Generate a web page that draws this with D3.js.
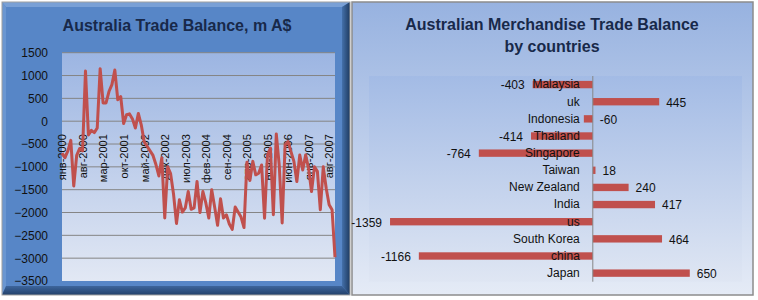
<!DOCTYPE html>
<html>
<head>
<meta charset="utf-8">
<script src="https://cdn.jsdelivr.net/npm/d3@7"></script>
<style>
  body { margin: 0; background: #fff; }
  svg { display: block; font-family: "Liberation Sans", Arial, sans-serif; }
</style>
</head>
<body>
<div id="chart"></div>
<script>
// monthly trade balance, m A$, Jan 2000 .. Oct 2007
const balance = [
  -700, -800, -650, -420, -1420, -750, -600, -650, 1100, -300,
  -200, -250, -150, 1150, 400, 400, 650, 800, 1120, 470,
  540, -50, 140, 160, 50, -150, 170, -80, -450, -550,
  -650, -750, -950, -1200, -800, -2120, -1000, -1150, -1600, -2240,
  -1720, -1990, -1900, -1540, -1930, -1900, -1320, -2000, -1540, -1790,
  -2120, -1500, -1880, -2280, -1700, -2120, -2050, -2250, -2370, -1880,
  -1990, -2100, -2330, -900, -1300, -880, -1175, -1140, -960, -2125,
  -740, -590, -2050, -280, -960, -2230, -520, -445, -665, -880,
  -1320, -740, -1070, -740, -1030, -1540, -1000, -1100, -1940, -1000,
  -1470, -1830, -1940, -2980
];
// category labels shown every 7th month
const monthTicks = [
  "янв-2000", "авг-2000", "мар-2001", "окт-2001", "май-2002", "дек-2002", "июл-2003",
  "фев-2004", "сен-2004", "апр-2005", "ноя-2005", "июн-2006", "янв-2007", "авг-2007"
];
const yTicks = [1500, 1000, 500, 0, -500, -1000, -1500, -2000, -2500, -3000, -3500];

const countries = ["Malaysia", "uk", "Indonesia", "Thailand", "Singapore", "Taiwan",
  "New Zealand", "India", "us", "South Korea", "china", "Japan"];
const countryBalance = [-403, 445, -60, -414, -764, 18, 240, 417, -1359, 464, -1166, 650];

const svg = d3.select("#chart").append("svg")
  .attr("width", 758)
  .attr("height", 300);

const defs = svg.append("defs");
function vGrad(id, c0, c1) {
  const g = defs.append("linearGradient").attr("id", id)
    .attr("x1", 0).attr("y1", 0).attr("x2", 0).attr("y2", 1);
  g.append("stop").attr("offset", "0%").attr("stop-color", c0);
  g.append("stop").attr("offset", "100%").attr("stop-color", c1);
}
vGrad("plotBg", "#9cb5e2", "#e2e8f4");
vGrad("panelBg", "#97b2e0", "#e5ebf6");
vGrad("barPlotBg", "#a3bbe5", "#dfe6f3");
vGrad("bevelBottom", "#3d659c", "#22406a");
const rg = defs.append("linearGradient").attr("id", "bevelRight")
  .attr("x1", 0).attr("y1", 0).attr("x2", 1).attr("y2", 0);
rg.append("stop").attr("offset", "0%").attr("stop-color", "#4470aa");
rg.append("stop").attr("offset", "100%").attr("stop-color", "#1e3a60");

// ---------- left panel: line chart ----------
const L = 2, T = 2, R = 350, B = 295;
const left = svg.append("g");
left.append("rect")
  .attr("x", L).attr("y", T).attr("width", R - L).attr("height", B - T)
  .attr("fill", "#5786c7");
// bevel edges
left.append("polygon")
  .attr("points", `${L},${T} ${R},${T} ${R - 8},${T + 5} ${L + 4},${T + 5}`)
  .attr("fill", "#79a0d6");
left.append("polygon")
  .attr("points", `${L},${T} ${L + 4},${T + 5} ${L + 4},${B - 9} ${L},${B}`)
  .attr("fill", "#6a96d1");
left.append("polygon")
  .attr("points", `${R},${T} ${R},${B} ${R - 8},${B - 9} ${R - 8},${T + 5}`)
  .attr("fill", "url(#bevelRight)");
left.append("polygon")
  .attr("points", `${L},${B} ${R},${B} ${R - 8},${B - 9} ${L + 4},${B - 9}`)
  .attr("fill", "url(#bevelBottom)");
left.append("rect")
  .attr("x", L).attr("y", T).attr("width", R - L).attr("height", B - T)
  .attr("fill", "none").attr("stroke", "#a0a0a0");

left.append("text")
  .attr("x", 177).attr("y", 31)
  .attr("text-anchor", "middle")
  .style("font-size", "16px").style("font-weight", "bold")
  .attr("fill", "#18294a")
  .text("Australia Trade Balance, m A$");

const x = d3.scaleLinear().domain([0, balance.length - 1]).range([62, 335]);
const y = d3.scaleLinear().domain([-3500, 1500]).range([281, 52.7]);

left.append("rect")
  .attr("x", 62).attr("y", y(1500))
  .attr("width", 335 - 62).attr("height", y(-3500) - y(1500))
  .attr("fill", "url(#plotBg)");

// gridlines
left.append("g")
  .selectAll("line")
  .data(yTicks.slice(0, -1))
  .join("line")
  .attr("x1", 62).attr("x2", 335)
  .attr("y1", d => y(d)).attr("y2", d => y(d))
  .attr("stroke", "#858585").attr("stroke-width", 1);

// Y axis labels
const yAxis = left.append("g")
  .attr("transform", "translate(62,0)")
  .call(d3.axisLeft(y).tickValues(yTicks).tickFormat(d3.format("d")).tickSize(0).tickPadding(14));
yAxis.select(".domain").remove();
yAxis.selectAll("text").style("font-size", "12px").attr("fill", "#111");

// category labels, written upward just below the zero line
const xAxis = left.append("g")
  .attr("transform", `translate(0,${y(0) + 13})`)
  .call(d3.axisBottom(x)
    .tickValues(monthTicks.map((d, i) => i * 7))
    .tickFormat((d, i) => monthTicks[i])
    .tickSize(0));
xAxis.select(".domain").remove();
xAxis.selectAll("text")
  .attr("transform", "rotate(-90)")
  .attr("x", 0).attr("y", 0).attr("dy", "0.35em")
  .style("text-anchor", "end")
  .style("font-size", "11px")
  .attr("fill", "#111");

left.append("path")
  .datum(balance)
  .attr("d", d3.line().x((d, i) => x(i)).y(d => y(d)))
  .attr("fill", "none")
  .attr("stroke", "#c0504d")
  .attr("stroke-width", 3)
  .attr("stroke-linejoin", "round");

// ---------- right panel: bar chart ----------
const right = svg.append("g");
right.append("rect")
  .attr("x", 352).attr("y", 2).attr("width", 401).attr("height", 293)
  .attr("fill", "url(#panelBg)")
  .attr("stroke", "#8c8c8c").attr("stroke-width", 1.5);

right.append("text")
  .attr("x", 552).attr("y", 30)
  .attr("text-anchor", "middle")
  .style("font-size", "16px").style("font-weight", "bold")
  .attr("fill", "#18294a")
  .selectAll("tspan")
  .data(["Australian Merchandise Trade Balance", "by countries"])
  .join("tspan")
  .attr("x", 552)
  .attr("dy", (d, i) => i ? 22 : 0)
  .text(d => d);

const bx = d3.scaleLinear().domain([-1500, 1000]).range([369, 742]);
const by = d3.scaleBand().domain(countries).range([76, 281.7])
  .paddingInner(0.57).paddingOuter(0.285);

right.append("rect")
  .attr("x", 369).attr("y", 76)
  .attr("width", 742 - 369).attr("height", 281.7 - 76)
  .attr("fill", "url(#barPlotBg)");

const rows = countries.map((c, i) => ({ c, v: countryBalance[i] }));

right.append("g")
  .selectAll("rect")
  .data(rows)
  .join("rect")
  .attr("x", d => bx(Math.min(0, d.v)))
  .attr("y", d => by(d.c))
  .attr("width", d => Math.abs(bx(d.v) - bx(0)))
  .attr("height", by.bandwidth())
  .attr("fill", "#c0504d");

right.append("line")
  .attr("x1", bx(0)).attr("x2", bx(0))
  .attr("y1", 76).attr("y2", 281.7)
  .attr("stroke", "#868686");

// category names next to the zero axis
const cAxis = right.append("g")
  .attr("transform", `translate(${bx(0)},0)`)
  .call(d3.axisLeft(by).tickSize(0).tickPadding(13));
cAxis.select(".domain").remove();
cAxis.selectAll("text").style("font-size", "12px").attr("fill", "#111");

// value labels
right.append("g")
  .selectAll("text")
  .data(rows)
  .join("text")
  .attr("x", d => {
    const len = Math.abs(bx(d.v) - bx(0));
    if (d.v >= 0) return bx(d.v) + 7;
    return len < 30 ? bx(0) + 7 : bx(d.v) - 8;
  })
  .attr("y", d => by(d.c) + by.bandwidth() / 2)
  .attr("dy", "0.4em")
  .attr("text-anchor", d => (d.v < 0 && Math.abs(bx(d.v) - bx(0)) >= 30) ? "end" : "start")
  .style("font-size", "12px")
  .attr("fill", "#111")
  .text(d => d.v);
</script>
</body>
</html>
